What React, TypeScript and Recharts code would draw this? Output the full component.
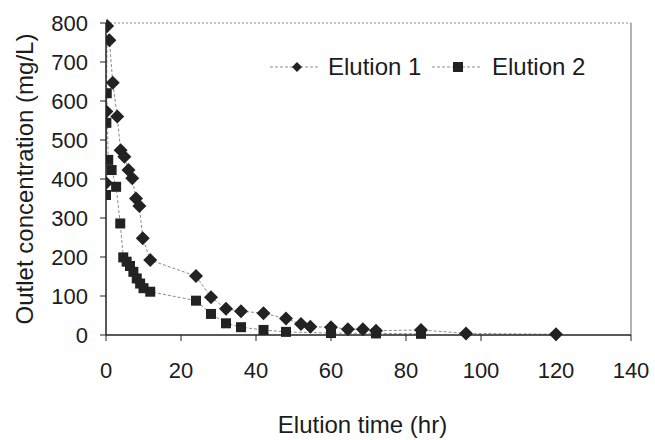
import React from 'react';
import { LineChart, Line, XAxis, YAxis, ReferenceLine, Legend, Label } from 'recharts';

const seriesNames = ['Elution 1', 'Elution 2'];

const elution1Time = [0, 0.1, 0.3, 0.9, 1.8, 3, 3.9, 4.9, 6, 7, 8, 8.9, 9.8, 11.8, 24, 28, 32, 36, 42, 48, 52, 54.5, 60, 64.5, 68.5, 72, 84, 96, 120];
const elution1Conc = [390, 573, 792, 756, 647, 560, 474, 457, 423, 402, 350, 331, 248, 192, 151, 97, 67, 61, 56, 42, 28, 21, 20, 15, 15, 11, 13, 4, 2];

const elution2Time = [0, 0.1, 0.2, 0.6, 1.5, 2.7, 3.8, 4.6, 5.5, 6.4, 7.3, 8.2, 9.1, 10, 11.8, 24, 28, 32, 36, 42, 48, 60, 72, 84];
const elution2Conc = [359, 544, 620, 449, 423, 380, 286, 199, 188, 177, 162, 145, 132, 120, 111, 88, 54, 30, 20, 13, 8, 5, 4, 3];

const xTicks = [0, 20, 40, 60, 80, 100, 120, 140];
const yTicks = [0, 100, 200, 300, 400, 500, 600, 700, 800];

const data1 = elution1Time.map((t, i) => ({ t, c: elution1Conc[i] }));
const data2 = elution2Time.map((t, i) => ({ t, c: elution2Conc[i] }));

const FONT = '"Liberation Sans", Arial, sans-serif';
const TEXT = '#1c1c1c';
const MARK = '#222222';
const LINE = '#8c8c8c';

const Diamond = (props: any) => {
  const { cx, cy, index } = props;
  if (cx == null || cy == null) return <g key={`d${index}`} />;
  const r = 7;
  return (
    <polygon
      key={`d${index}`}
      points={`${cx},${cy - r} ${cx + r},${cy} ${cx},${cy + r} ${cx - r},${cy}`}
      fill={MARK}
    />
  );
};

const Square = (props: any) => {
  const { cx, cy, index } = props;
  if (cx == null || cy == null) return <g key={`s${index}`} />;
  const h = 5;
  return <rect key={`s${index}`} x={cx - h} y={cy - h} width={2 * h} height={2 * h} fill={MARK} />;
};

const renderLegend = () => (
  <svg width={350} height={30} style={{ display: 'block' }}>
    <line x1={8} y1={15} x2={56} y2={15} stroke={LINE} strokeWidth={1} strokeDasharray="3 2" />
    <polygon points="35,10 40,15 35,20 30,15" fill={MARK} />
    <text x={66} y={23} fontFamily={FONT} fontSize={24} fill={TEXT}>{seriesNames[0]}</text>
    <line x1={170} y1={15} x2={218} y2={15} stroke={LINE} strokeWidth={1} strokeDasharray="3 2" />
    <rect x={191} y={10} width={10} height={10} fill={MARK} />
    <text x={230} y={23} fontFamily={FONT} fontSize={24} fill={TEXT}>{seriesNames[1]}</text>
  </svg>
);

const YTitle = (props: any) => {
  const vb = props.viewBox || { x: 0, y: 0, width: 0, height: 0 };
  const cx = vb.x + 24;
  const cy = vb.y + vb.height / 2;
  return (
    <text
      x={cx}
      y={cy}
      transform={`rotate(-90 ${cx} ${cy})`}
      textAnchor="middle"
      dominantBaseline="central"
      fontFamily={FONT}
      fontSize={24}
      fill={TEXT}
    >
      Outlet concentration (mg/L)
    </text>
  );
};

export default function App() {
  return (
    <div style={{ position: 'absolute', left: 0, top: 0, background: '#fff' }}>
      <LineChart
        width={655}
        height={440}
        margin={{ top: 23, right: 24, bottom: 0, left: 0 }}
        style={{ fontFamily: FONT }}
      >
        <XAxis
          type="number"
          dataKey="t"
          domain={[0, 140]}
          ticks={xTicks}
          allowDataOverflow
          height={105}
          tickSize={6}
          tickMargin={21}
          tick={{ fontSize: 22, fill: TEXT, fontFamily: FONT }}
          stroke="#222"
          axisLine={{ stroke: '#222', strokeWidth: 1.5 }}
          tickLine={{ stroke: '#222' }}
        >
          <Label
            value="Elution time (hr)"
            position="insideBottom"
            offset={7}
            dx={-6}
            style={{ fontSize: 24, fill: TEXT, fontFamily: FONT }}
          />
        </XAxis>
        <YAxis
          type="number"
          domain={[0, 800]}
          ticks={yTicks}
          width={106}
          tickSize={6}
          tickMargin={12}
          tick={{ fontSize: 22, fill: TEXT, fontFamily: FONT }}
          stroke="#222"
          axisLine={{ stroke: '#222', strokeWidth: 1.5 }}
          tickLine={{ stroke: '#222' }}
        >
          <Label content={<YTitle />} />
        </YAxis>
        <ReferenceLine y={800} stroke="#8a8a8a" strokeWidth={1.2} strokeDasharray="2 2" />
        <ReferenceLine x={140} stroke="#9a9a9a" strokeWidth={1.5} />
        <Legend
          content={renderLegend}
          layout="horizontal"
          verticalAlign="middle"
          align="center"
          wrapperStyle={{ position: 'absolute', left: 262, top: 52, width: 350, height: 30 }}
        />
        <Line
          data={data2}
          dataKey="c"
          name={seriesNames[1]}
          type="linear"
          stroke={LINE}
          strokeWidth={1}
          strokeDasharray="3 2"
          dot={Square}
          activeDot={false}
          isAnimationActive={false}
        />
        <Line
          data={data1}
          dataKey="c"
          name={seriesNames[0]}
          type="linear"
          stroke={LINE}
          strokeWidth={1}
          strokeDasharray="3 2"
          dot={Diamond}
          activeDot={false}
          isAnimationActive={false}
        />
      </LineChart>
    </div>
  );
}
